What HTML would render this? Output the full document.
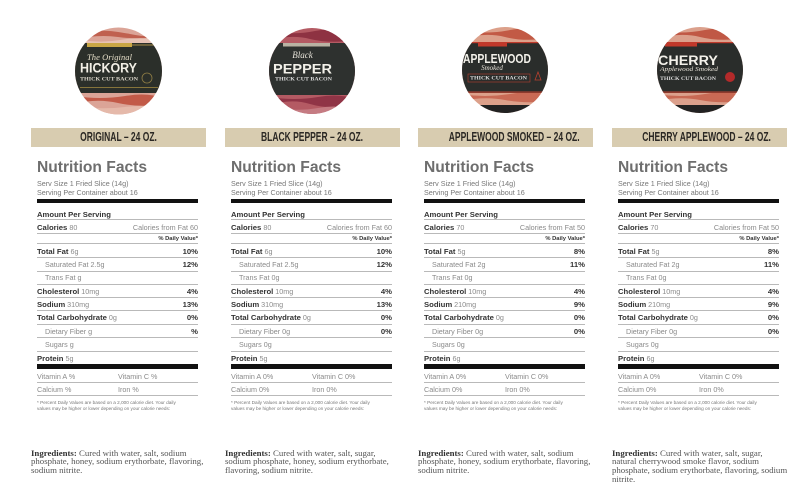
<!DOCTYPE html>
<html><head><meta charset="utf-8">
<style>
*{margin:0;padding:0;box-sizing:border-box}
html,body{width:800px;height:488px;background:#fff;overflow:hidden}
#pg{position:relative;width:800px;height:488px;background:#fff;font-family:"Liberation Sans",Arial,sans-serif}
svg.top{position:absolute;left:0;top:0}
.col{position:absolute;top:0;width:161px;height:488px}
.lb{position:absolute;left:-6px;top:128px;width:175px;height:19px;background:#d8ccb0;text-align:center;overflow:hidden}
.lb span{display:inline-block;font:bold 12.5px/19px "Liberation Sans",sans-serif;color:#2b2824;transform:scaleX(0.68);white-space:nowrap}
.nf{position:absolute;left:0;top:159.6px;font:bold 15.6px/16px "Liberation Sans",sans-serif;color:#6e6e6e;white-space:nowrap}
.ss{position:absolute;left:0;top:179px;font:7.2px/9px "Liberation Sans",sans-serif;color:#777;white-space:nowrap}
.bk{position:absolute;left:0;width:161px;background:#111}
.ln{position:absolute;left:0;width:161px;height:1px;background:#b9b9b9}
.r{position:absolute;left:0;width:161px;height:13px;line-height:13px;font-size:7.2px;color:#8a8a8a;white-space:nowrap}
.r.in{left:8px;width:153px}
.r b{font-size:7.7px;color:#333}
.r i{position:absolute;right:0;top:0;font-style:normal}
.r em{position:absolute;right:0;top:0;font-style:normal;font-weight:bold;font-size:7.7px;color:#333}
.r u{position:absolute;right:0;top:0;text-decoration:none;font-weight:bold;font-size:5.8px;color:#333}
.r s{position:absolute;left:81px;top:0;text-decoration:none}
.fn{position:absolute;left:0;top:399.8px;font-size:4.7px;line-height:6.3px;color:#777;white-space:nowrap}
.ing{position:absolute;left:-6px;top:448.6px;font:8.8px/8.7px "Liberation Serif","Times New Roman",serif;color:#555;white-space:nowrap}
.ing b{color:#333}
</style></head><body><div id="pg">

<svg class="top" width="800" height="125" viewBox="0 0 800 125" xmlns="http://www.w3.org/2000/svg">
<defs>
<clipPath id="c1"><circle cx="118.5" cy="71" r="43.5"/></clipPath>
<clipPath id="c2"><circle cx="312" cy="71" r="43"/></clipPath>
<clipPath id="c3"><circle cx="505" cy="70" r="43"/></clipPath>
<clipPath id="c4"><circle cx="700" cy="70" r="43"/></clipPath>
</defs>

<!-- Circle 1: Original Hickory -->
<g clip-path="url(#c1)">
<rect x="74" y="26" width="90" height="90" fill="#dba497"/>
<path d="M74 32 Q100 28 130 34 T164 30 L164 36 Q140 40 118 37 T74 40Z" fill="#c0604f"/>
<path d="M74 38 Q96 44 120 40 T164 41 L164 44 L74 44Z" fill="#e7c2b4"/>
<path d="M74 96 Q100 100 125 96 T164 99 L164 104 Q140 108 118 103 T74 104Z" fill="#c25a48"/>
<path d="M74 106 Q100 110 125 107 T164 110 L164 116 L74 116Z" fill="#e5b9aa"/>
<rect x="74" y="43" width="90" height="50" fill="#2b2f2a"/>
<rect x="87" y="43" width="45" height="4" fill="#c9a645"/>
<rect x="132" y="44.5" width="30" height="1" fill="#a88e48"/>
<text x="109.5" y="60" font-family="Liberation Serif,serif" font-style="italic" font-size="8.5" fill="#e6dfc9" text-anchor="middle" textLength="45">The Original</text>
<text x="80" y="72.5" font-family="Liberation Sans,sans-serif" font-weight="bold" font-size="13.5" fill="#f2efe6" textLength="57" lengthAdjust="spacingAndGlyphs">HICKORY</text>
<text x="80" y="80.5" font-family="Liberation Serif,serif" font-weight="bold" font-size="5.5" fill="#ddd8cc" textLength="58" lengthAdjust="spacingAndGlyphs">THICK CUT BACON</text>
<rect x="80" y="87" width="78" height="0.8" fill="#9c8640"/>
<circle cx="147" cy="78" r="5" fill="none" stroke="#8f7d45" stroke-width="0.8"/>
</g>

<!-- Circle 2: Black Pepper -->
<g clip-path="url(#c2)">
<rect x="268" y="26" width="90" height="90" fill="#b45a63"/>
<path d="M268 30 Q290 36 315 31 T358 34 L358 40 Q330 44 310 39 T268 41Z" fill="#8e3242"/>
<path d="M268 97 Q295 101 318 97 T358 100 L358 106 Q330 110 310 104 T268 106Z" fill="#903446"/>
<path d="M268 107 Q295 112 318 108 T358 111 L358 116 L268 116Z" fill="#c57b82"/>
<rect x="268" y="43" width="90" height="52" fill="#2e312f"/>
<rect x="283" y="43" width="47" height="3.5" fill="#b9b2a3"/>
<text x="302.5" y="58" font-family="Liberation Serif,serif" font-style="italic" font-size="9" fill="#e8e4da" text-anchor="middle">Black</text>
<text x="273" y="73.5" font-family="Liberation Sans,sans-serif" font-weight="bold" font-size="14" fill="#f3f1ea" textLength="59" lengthAdjust="spacingAndGlyphs">PEPPER</text>
<text x="275" y="80.5" font-family="Liberation Serif,serif" font-weight="bold" font-size="5.5" fill="#ddd" textLength="57" lengthAdjust="spacingAndGlyphs">THICK CUT BACON</text>
</g>

<!-- Circle 3: Applewood -->
<g clip-path="url(#c3)">
<rect x="460" y="25" width="90" height="90" fill="#dca08a"/>
<path d="M460 30 Q485 35 510 30 T550 33 L550 38 Q525 42 505 37 T460 39Z" fill="#c25a45"/>
<path d="M460 94 Q485 98 510 94 T550 96 L550 101 Q525 104 505 100 T460 101Z" fill="#c96a55"/>
<rect x="460" y="105" width="90" height="12" fill="#222"/>
<rect x="460" y="42" width="90" height="51" fill="#2a2d2b"/>
<rect x="460" y="42" width="90" height="1.2" fill="#c0392b"/>
<rect x="478" y="43" width="29" height="3.5" fill="#c0392b"/>
<rect x="460" y="91.5" width="90" height="1.2" fill="#b8402f"/>
<text x="463" y="63" font-family="Liberation Sans,sans-serif" font-weight="bold" font-size="12.5" fill="#f3f1ea" textLength="68" lengthAdjust="spacingAndGlyphs">APPLEWOOD</text>
<text x="492" y="70" font-family="Liberation Serif,serif" font-style="italic" font-size="7" fill="#e5e0d6" text-anchor="middle">Smoked</text>
<text x="470" y="79.5" font-family="Liberation Serif,serif" font-weight="bold" font-size="5.5" fill="#ddd" textLength="57" lengthAdjust="spacingAndGlyphs">THICK CUT BACON</text>
<rect x="468" y="74" width="62" height="8" fill="none" stroke="#b8402f" stroke-width="0.6"/>
<path d="M535 80 L538 72 L541 80Z" fill="none" stroke="#b8402f" stroke-width="0.8"/>
</g>

<!-- Circle 4: Cherry -->
<g clip-path="url(#c4)">
<rect x="655" y="25" width="90" height="90" fill="#dba08c"/>
<path d="M655 30 Q680 35 705 30 T745 33 L745 38 Q720 42 700 37 T655 39Z" fill="#c05845"/>
<path d="M655 94 Q680 98 705 94 T745 96 L745 101 Q720 104 700 100 T655 101Z" fill="#c86954"/>
<rect x="655" y="105" width="90" height="12" fill="#222"/>
<rect x="655" y="42" width="90" height="51" fill="#2a2d2b"/>
<rect x="655" y="42" width="90" height="1.2" fill="#c0392b"/>
<rect x="665" y="43" width="32" height="3.5" fill="#c0392b"/>
<rect x="655" y="91.5" width="90" height="1.2" fill="#b8402f"/>
<text x="658" y="65" font-family="Liberation Sans,sans-serif" font-weight="bold" font-size="13.5" fill="#f3f1ea" textLength="60" lengthAdjust="spacingAndGlyphs">CHERRY</text>
<text x="660" y="71" font-family="Liberation Serif,serif" font-style="italic" font-size="6.5" fill="#e5e0d6" textLength="58" lengthAdjust="spacingAndGlyphs">Applewood Smoked</text>
<text x="660" y="80" font-family="Liberation Serif,serif" font-weight="bold" font-size="5.5" fill="#ddd" textLength="56" lengthAdjust="spacingAndGlyphs">THICK CUT BACON</text>
<circle cx="730" cy="77" r="5" fill="#b32a2a"/>
</g>
</svg>

<!-- Column 1 -->
<div class="col" style="left:37px">
<div class="lb"><span>ORIGINAL – 24 OZ.</span></div>
<div class="nf">Nutrition Facts</div>
<div class="ss">Serv Size 1 Fried Slice (14g)<br>Serving Per Container about 16</div>
<div class="bk" style="top:199px;height:4px"></div>
<div class="r" style="top:207.5px"><b>Amount Per Serving</b></div>
<div class="ln" style="top:219px"></div>
<div class="r" style="top:220.5px"><b>Calories</b> 80<i>Calories from Fat 60</i></div>
<div class="ln" style="top:233px"></div>
<div class="r" style="top:232.5px"><u>% Daily Value*</u></div>
<div class="ln" style="top:243px"></div>
<div class="r" style="top:244.5px"><b>Total Fat</b> 6g<em>10%</em></div>
<div class="ln" style="top:257px"></div>
<div class="r in" style="top:258px">Saturated Fat 2.5g<em>12%</em></div>
<div class="ln" style="top:271px"></div>
<div class="r in" style="top:271px">Trans Fat g</div>
<div class="ln" style="top:284px"></div>
<div class="r" style="top:284.5px"><b>Cholesterol</b> 10mg<em>4%</em></div>
<div class="ln" style="top:297px"></div>
<div class="r" style="top:297.5px"><b>Sodium</b> 310mg<em>13%</em></div>
<div class="ln" style="top:310px"></div>
<div class="r" style="top:311px"><b>Total Carbohydrate</b> 0g<em>0%</em></div>
<div class="ln" style="top:324px"></div>
<div class="r in" style="top:324.5px">Dietary Fiber g<em>%</em></div>
<div class="ln" style="top:337px"></div>
<div class="r in" style="top:338px">Sugars g</div>
<div class="ln" style="top:351px"></div>
<div class="r" style="top:351.5px"><b>Protein</b> 5g</div>
<div class="bk" style="top:364px;height:5px"></div>
<div class="r" style="top:369.5px">Vitamin A %<s>Vitamin C %</s></div>
<div class="ln" style="top:382px"></div>
<div class="r" style="top:382.5px">Calcium %<s>Iron %</s></div>
<div class="ln" style="top:395px"></div>
<div class="fn">* Percent Daily Values are based on a 2,000 calorie diet. Your daily<br>values may be higher or lower depending on your calorie needs:</div>
<div class="ing"><b>Ingredients:</b> Cured with water, salt, sodium<br>phosphate, honey, sodium erythorbate, flavoring,<br>sodium nitrite.</div>
</div>

<!-- Column 2 -->
<div class="col" style="left:231px">
<div class="lb"><span>BLACK PEPPER – 24 OZ.</span></div>
<div class="nf">Nutrition Facts</div>
<div class="ss">Serv Size 1 Fried Slice (14g)<br>Serving Per Container about 16</div>
<div class="bk" style="top:199px;height:4px"></div>
<div class="r" style="top:207.5px"><b>Amount Per Serving</b></div>
<div class="ln" style="top:219px"></div>
<div class="r" style="top:220.5px"><b>Calories</b> 80<i>Calories from Fat 60</i></div>
<div class="ln" style="top:233px"></div>
<div class="r" style="top:232.5px"><u>% Daily Value*</u></div>
<div class="ln" style="top:243px"></div>
<div class="r" style="top:244.5px"><b>Total Fat</b> 6g<em>10%</em></div>
<div class="ln" style="top:257px"></div>
<div class="r in" style="top:258px">Saturated Fat 2.5g<em>12%</em></div>
<div class="ln" style="top:271px"></div>
<div class="r in" style="top:271px">Trans Fat 0g</div>
<div class="ln" style="top:284px"></div>
<div class="r" style="top:284.5px"><b>Cholesterol</b> 10mg<em>4%</em></div>
<div class="ln" style="top:297px"></div>
<div class="r" style="top:297.5px"><b>Sodium</b> 310mg<em>13%</em></div>
<div class="ln" style="top:310px"></div>
<div class="r" style="top:311px"><b>Total Carbohydrate</b> 0g<em>0%</em></div>
<div class="ln" style="top:324px"></div>
<div class="r in" style="top:324.5px">Dietary Fiber 0g<em>0%</em></div>
<div class="ln" style="top:337px"></div>
<div class="r in" style="top:338px">Sugars 0g</div>
<div class="ln" style="top:351px"></div>
<div class="r" style="top:351.5px"><b>Protein</b> 5g</div>
<div class="bk" style="top:364px;height:5px"></div>
<div class="r" style="top:369.5px">Vitamin A 0%<s>Vitamin C 0%</s></div>
<div class="ln" style="top:382px"></div>
<div class="r" style="top:382.5px">Calcium 0%<s>Iron 0%</s></div>
<div class="ln" style="top:395px"></div>
<div class="fn">* Percent Daily Values are based on a 2,000 calorie diet. Your daily<br>values may be higher or lower depending on your calorie needs:</div>
<div class="ing"><b>Ingredients:</b> Cured with water, salt, sugar,<br>sodium phosphate, honey, sodium erythorbate,<br>flavoring, sodium nitrite.</div>
</div>

<!-- Column 3 -->
<div class="col" style="left:424px">
<div class="lb"><span>APPLEWOOD SMOKED – 24 OZ.</span></div>
<div class="nf">Nutrition Facts</div>
<div class="ss">Serv Size 1 Fried Slice (14g)<br>Serving Per Container about 16</div>
<div class="bk" style="top:199px;height:4px"></div>
<div class="r" style="top:207.5px"><b>Amount Per Serving</b></div>
<div class="ln" style="top:219px"></div>
<div class="r" style="top:220.5px"><b>Calories</b> 70<i>Calories from Fat 50</i></div>
<div class="ln" style="top:233px"></div>
<div class="r" style="top:232.5px"><u>% Daily Value*</u></div>
<div class="ln" style="top:243px"></div>
<div class="r" style="top:244.5px"><b>Total Fat</b> 5g<em>8%</em></div>
<div class="ln" style="top:257px"></div>
<div class="r in" style="top:258px">Saturated Fat 2g<em>11%</em></div>
<div class="ln" style="top:271px"></div>
<div class="r in" style="top:271px">Trans Fat 0g</div>
<div class="ln" style="top:284px"></div>
<div class="r" style="top:284.5px"><b>Cholesterol</b> 10mg<em>4%</em></div>
<div class="ln" style="top:297px"></div>
<div class="r" style="top:297.5px"><b>Sodium</b> 210mg<em>9%</em></div>
<div class="ln" style="top:310px"></div>
<div class="r" style="top:311px"><b>Total Carbohydrate</b> 0g<em>0%</em></div>
<div class="ln" style="top:324px"></div>
<div class="r in" style="top:324.5px">Dietary Fiber 0g<em>0%</em></div>
<div class="ln" style="top:337px"></div>
<div class="r in" style="top:338px">Sugars 0g</div>
<div class="ln" style="top:351px"></div>
<div class="r" style="top:351.5px"><b>Protein</b> 6g</div>
<div class="bk" style="top:364px;height:5px"></div>
<div class="r" style="top:369.5px">Vitamin A 0%<s>Vitamin C 0%</s></div>
<div class="ln" style="top:382px"></div>
<div class="r" style="top:382.5px">Calcium 0%<s>Iron 0%</s></div>
<div class="ln" style="top:395px"></div>
<div class="fn">* Percent Daily Values are based on a 2,000 calorie diet. Your daily<br>values may be higher or lower depending on your calorie needs:</div>
<div class="ing"><b>Ingredients:</b> Cured with water, salt, sodium<br>phosphate, honey, sodium erythorbate, flavoring,<br>sodium nitrite.</div>
</div>

<!-- Column 4 -->
<div class="col" style="left:618px">
<div class="lb"><span>CHERRY APPLEWOOD – 24 OZ.</span></div>
<div class="nf">Nutrition Facts</div>
<div class="ss">Serv Size 1 Fried Slice (14g)<br>Serving Per Container about 16</div>
<div class="bk" style="top:199px;height:4px"></div>
<div class="r" style="top:207.5px"><b>Amount Per Serving</b></div>
<div class="ln" style="top:219px"></div>
<div class="r" style="top:220.5px"><b>Calories</b> 70<i>Calories from Fat 50</i></div>
<div class="ln" style="top:233px"></div>
<div class="r" style="top:232.5px"><u>% Daily Value*</u></div>
<div class="ln" style="top:243px"></div>
<div class="r" style="top:244.5px"><b>Total Fat</b> 5g<em>8%</em></div>
<div class="ln" style="top:257px"></div>
<div class="r in" style="top:258px">Saturated Fat 2g<em>11%</em></div>
<div class="ln" style="top:271px"></div>
<div class="r in" style="top:271px">Trans Fat 0g</div>
<div class="ln" style="top:284px"></div>
<div class="r" style="top:284.5px"><b>Cholesterol</b> 10mg<em>4%</em></div>
<div class="ln" style="top:297px"></div>
<div class="r" style="top:297.5px"><b>Sodium</b> 210mg<em>9%</em></div>
<div class="ln" style="top:310px"></div>
<div class="r" style="top:311px"><b>Total Carbohydrate</b> 0g<em>0%</em></div>
<div class="ln" style="top:324px"></div>
<div class="r in" style="top:324.5px">Dietary Fiber 0g<em>0%</em></div>
<div class="ln" style="top:337px"></div>
<div class="r in" style="top:338px">Sugars 0g</div>
<div class="ln" style="top:351px"></div>
<div class="r" style="top:351.5px"><b>Protein</b> 6g</div>
<div class="bk" style="top:364px;height:5px"></div>
<div class="r" style="top:369.5px">Vitamin A 0%<s>Vitamin C 0%</s></div>
<div class="ln" style="top:382px"></div>
<div class="r" style="top:382.5px">Calcium 0%<s>Iron 0%</s></div>
<div class="ln" style="top:395px"></div>
<div class="fn">* Percent Daily Values are based on a 2,000 calorie diet. Your daily<br>values may be higher or lower depending on your calorie needs:</div>
<div class="ing"><b>Ingredients:</b> Cured with water, salt, sugar,<br>natural cherrywood smoke flavor, sodium<br>phosphate, sodium erythorbate, flavoring, sodium<br>nitrite.</div>
</div>

</div></body></html>
